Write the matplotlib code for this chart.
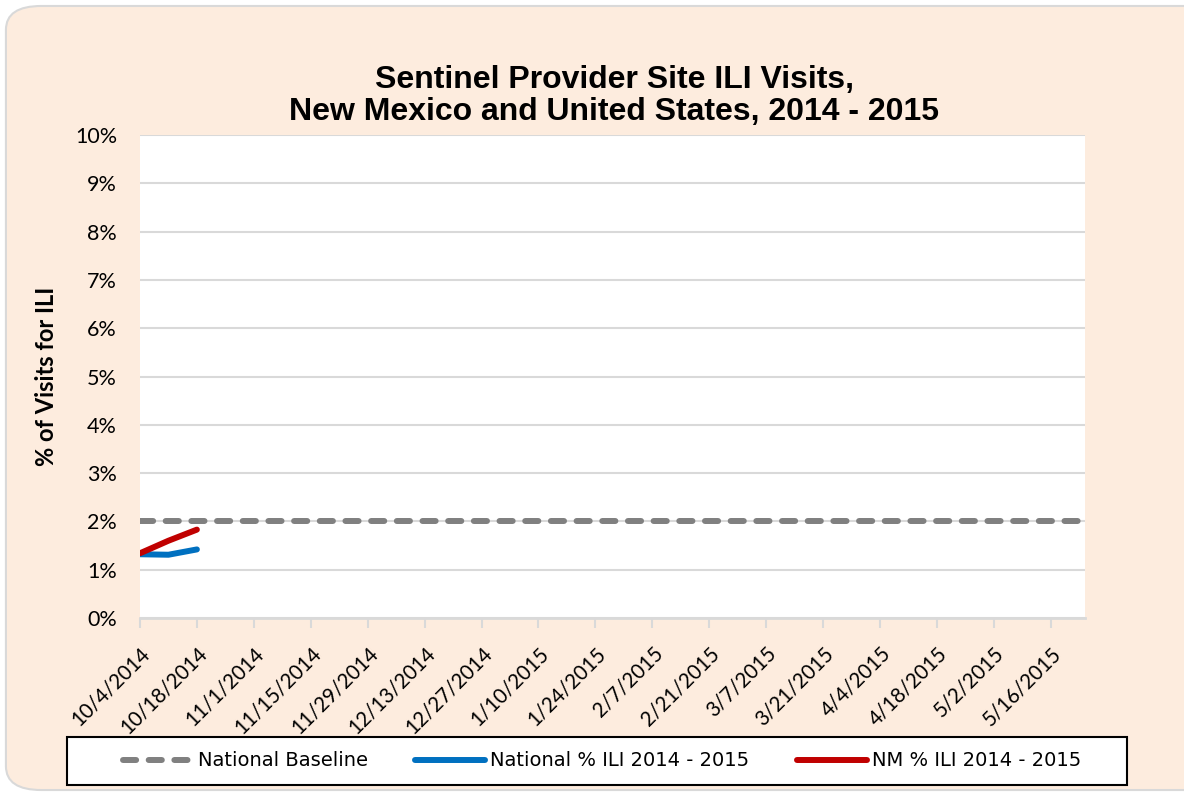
import matplotlib.pyplot as plt
import numpy as np
import pandas as pd
from matplotlib.patches import FancyBboxPatch, Rectangle
from matplotlib.ticker import PercentFormatter

# weekly categories, 10/4/2014 .. 5/23/2015
weeks = pd.date_range("2014-10-04", "2015-05-23", freq="7D")
week_labels = [f"{d.month}/{d.day}/{d.year}" for d in weeks]

baseline = [2.0] * len(weeks)
national_ili = [1.32, 1.31, 1.42]
nm_ili = [1.34, 1.60, 1.83]

fig = plt.figure(figsize=(11.84, 7.96), dpi=100)

# rounded chart-area background (runs off the right edge)
bg = FancyBboxPatch((0.005, 0.0075), 1.05, 0.985,
                    boxstyle="round,pad=0,rounding_size=0.03",
                    transform=fig.transFigure, facecolor="#FDECDE",
                    edgecolor="#D9D9D9", linewidth=1.5, zorder=-10)
fig.patches.append(bg)

ax = fig.add_axes([0.1182, 0.2236, 0.7982, 0.6068])
ax.set_facecolor("white")

x = np.arange(len(weeks))
ax.plot(x, baseline, color="#808080", lw=4.3, ls=(0, (2.2, 2.1)),
        dash_capstyle="round", label="National Baseline")
ax.plot(x[:len(national_ili)], national_ili, color="#0070C0", lw=4.3,
        solid_capstyle="round", label="National % ILI 2014 - 2015")
ax.plot(x[:len(nm_ili)], nm_ili, color="#C00000", lw=4.3,
        solid_capstyle="round", label="NM % ILI 2014 - 2015")

ax.set_xlim(0, len(weeks) - 1 + 0.2)
ax.set_ylim(0, 10)
ax.set_yticks(np.arange(0, 11, 1))
ax.yaxis.set_major_formatter(PercentFormatter(decimals=0))
ax.grid(axis="y", color="#D9D9D9", lw=1.5)
ax.set_axisbelow(True)
ax.tick_params(axis="y", length=0, labelsize=15.5, pad=16.5)

ax.set_xticks(x[::2])
ax.set_xticklabels(week_labels[::2], rotation=45, ha="right",
                   rotation_mode="anchor", fontsize=14.8)
ax.tick_params(axis="x", length=7, width=1.5, color="#D9D9D9", pad=11)

for side in ["top", "right", "left"]:
    ax.spines[side].set_visible(False)
ax.spines["bottom"].set_color("#D9D9D9")
ax.spines["bottom"].set_linewidth(2)

for lbl in ax.get_xticklabels() + ax.get_yticklabels():
    lbl.set_family("Lato")

ax.set_ylabel("% of Visits for ILI", fontsize=17, fontweight="bold",
              family="Lato", labelpad=12)

fig.text(0.519, 0.879, "Sentinel Provider Site ILI Visits,\nNew Mexico and United States, 2014 - 2015",
         ha="center", va="center", fontsize=23, fontweight="bold",
         family="Liberation Sans", linespacing=1.1)

# legend box drawn by hand, entries placed inside it
box = Rectangle((0.0566, 0.0138), 0.8954, 0.0603, transform=fig.transFigure,
                facecolor="white", edgecolor="black", linewidth=1.5, zorder=5)
fig.patches.append(box)
leg = fig.legend(loc="center", bbox_to_anchor=(0.5084, 0.044), ncol=3,
                 frameon=False,
                 prop={"family": "Liberation Sans Narrow", "size": 14},
                 handlelength=3.6, handletextpad=0.25, columnspacing=2.45,
                 bbox_transform=fig.transFigure)
leg.set_zorder(6)

fig.savefig("out.png", dpi=100)
